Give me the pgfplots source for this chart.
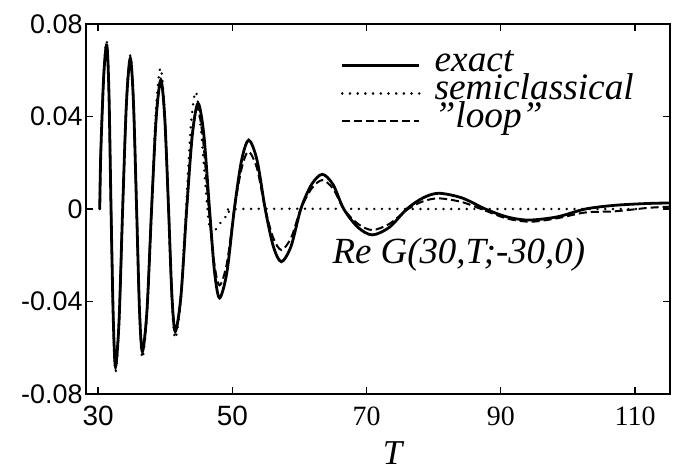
\documentclass[border=0pt]{standalone}
\usepackage{fontspec}
\setmainfont{Liberation Serif}
\newfontfamily\sansf{Liberation Sans}
\usepackage{pgfplots}
\pgfplotsset{compat=1.18}

\begin{document}
\begin{tikzpicture}
\useasboundingbox (-86bp,-79bp) rectangle (587bp,394bp);
\begin{axis}[
    at={(0,0)}, anchor=south west,
    scale only axis, width=584bp, height=370bp,
    xmin=28.2, xmax=115.2, ymin=-0.08, ymax=0.08,
    scaled y ticks=false,
    xtick={30,50,70,90,110},
    xticklabels={{\sansf 30},{\sansf 50},70,90,110},
    ytick={-0.08,-0.04,0,0.04,0.08},
    yticklabels={-0.08,-0.04,0,0.04,0.08},
    tick align=inside, major tick length=7bp,
    axis line style={line width=1.6bp},
    every tick/.style={black, line width=1.2bp},
    xticklabel style={font=\fontsize{28}{28}\selectfont, yshift=-9bp},
    yticklabel style={font=\sansf\fontsize{27}{27}\selectfont},
    xlabel={\itshape T},
    every axis x label/.style={at={(axis description cs:0.525,0)}, anchor=base,
        yshift=-70bp, font=\fontsize{35}{35}\selectfont},
    legend style={at={(axis description cs:0.436,0.927)}, anchor=north west,
        draw=none, fill=none, inner sep=0pt, column sep=14bp, row sep=0pt,
        font=\itshape\fontsize{37.5}{37.5}\selectfont,
        nodes={inner sep=0pt, text height=20bp, text depth=8bp}},
    legend cell align=left,
    legend image code/.code={\draw[#1] (0bp,0bp) -- (77bp,0bp);},
]
% exact
\addplot[smooth, black, line width=2.8bp] coordinates {
(30.25,0) (30.4,0.024) (30.85,0.058) (31.3,0.0709) (31.62,0.050) (31.93,0)
(32.27,-0.048) (32.6,-0.0682) (33.13,-0.048) (33.66,0) (34.23,0.0461) (34.8,0.0652)
(35.27,0.0461) (35.74,0) (36.17,-0.0436) (36.6,-0.0617) (37.29,-0.0436) (37.97,0)
(38.66,0.0395) (39.35,0.0558) (39.93,0.0395) (40.5,0) (41.0,-0.0375) (41.5,-0.053)
(42.35,-0.0375) (43.2,0) (44.05,0.0323) (44.9,0.0457) (45.75,0.0323) (46.6,0)
(47.35,-0.0272) (48.1,-0.0385) (49.2,-0.0272) (50.3,0) (51.38,0.0211) (52.45,0.0298)
(53.68,0.0211) (54.9,0) (56.1,-0.0161) (57.3,-0.0228) (58.75,-0.0161) (60.2,0)
(61.8,0.0106) (63.4,0.015) (65.0,0.0106) (66.6,0) (68.7,-0.0079) (70.85,-0.0112)
(73.4,-0.0079) (76.0,0) (78.4,0.0048) (80.75,0.0068) (84.2,0.0048) (87.7,0)
(90.9,-0.0034) (94.1,-0.0048) (98.4,-0.0034) (102.6,0) (107,0.0016) (112,0.0024)
(115.2,0.0026)};
\addlegendentry{exact}
% semiclassical
\addplot[smooth, black, line width=2.6bp, line cap=round, dash pattern=on 0.1bp off 7.6bp] coordinates {
(30.25,0) (30.4,0.025) (30.85,0.06) (31.3,0.0725) (31.62,0.051) (31.93,0)
(32.27,-0.05) (32.6,-0.0705) (33.13,-0.05) (33.66,0) (34.23,0.047) (34.8,0.0665)
(35.27,0.047) (35.74,0) (36.17,-0.0456) (36.6,-0.0645) (37.29,-0.0456) (37.97,0)
(38.63,0.0431) (39.3,0.061) (39.9,0.0431) (40.5,0) (41.0,-0.0396) (41.5,-0.056)
(42.3,-0.0396) (43.1,0) (43.82,0.0358) (44.55,0.0507) (45.3,0.035) (46.0,0.01)
(46.5,-0.006) (47.0,-0.0105) (48.1,-0.0065) (49.6,-0.0017) (51.1,0) (80,0) (110.4,0)};
\addlegendentry{semiclassical}
% loop
\addplot[smooth, black, line width=2bp, dash pattern=on 8bp off 4bp] coordinates {
(30.25,0) (30.4,0.024) (30.85,0.058) (31.3,0.0709) (31.62,0.050) (31.93,0)
(32.27,-0.048) (32.6,-0.0682) (33.13,-0.048) (33.66,0) (34.23,0.0461) (34.8,0.0652)
(35.27,0.0461) (35.74,0) (36.17,-0.0436) (36.6,-0.0617) (37.29,-0.0436) (37.97,0)
(38.66,0.0395) (39.35,0.0558) (39.93,0.0395) (40.5,0) (41.0,-0.0375) (41.5,-0.053)
(42.35,-0.0375) (43.2,0) (44.0,0.031) (44.75,0.044) (45.6,0.031) (46.5,0)
(47.3,-0.0233) (48.1,-0.033) (49.2,-0.0233) (50.3,0) (51.38,0.0175) (52.4,0.0248)
(53.68,0.0175) (54.9,0) (56.1,-0.0125) (57.3,-0.0177) (58.75,-0.0125) (60.2,0)
(61.8,0.0088) (63.4,0.0125) (65.0,0.0088) (66.6,0) (68.7,-0.0064) (70.85,-0.0091)
(73.4,-0.0064) (76.2,0) (78.4,0.0033) (80.75,0.0046) (84.2,0.003) (87.5,-0.0005)
(91,-0.0042) (94.5,-0.0055) (98.4,-0.004) (102.6,-0.0015) (107,-0.001) (112,0.0005)
(115.2,0.001)};
\addlegendentry{\symbol{34}loop\symbol{34}}
\node[anchor=base west, inner sep=0pt, font=\itshape\fontsize{37}{37}\selectfont]
    at (axis cs:64.9,-0.0234) {Re G(30,T;-30,0)};
\end{axis}
\end{tikzpicture}
\end{document}
